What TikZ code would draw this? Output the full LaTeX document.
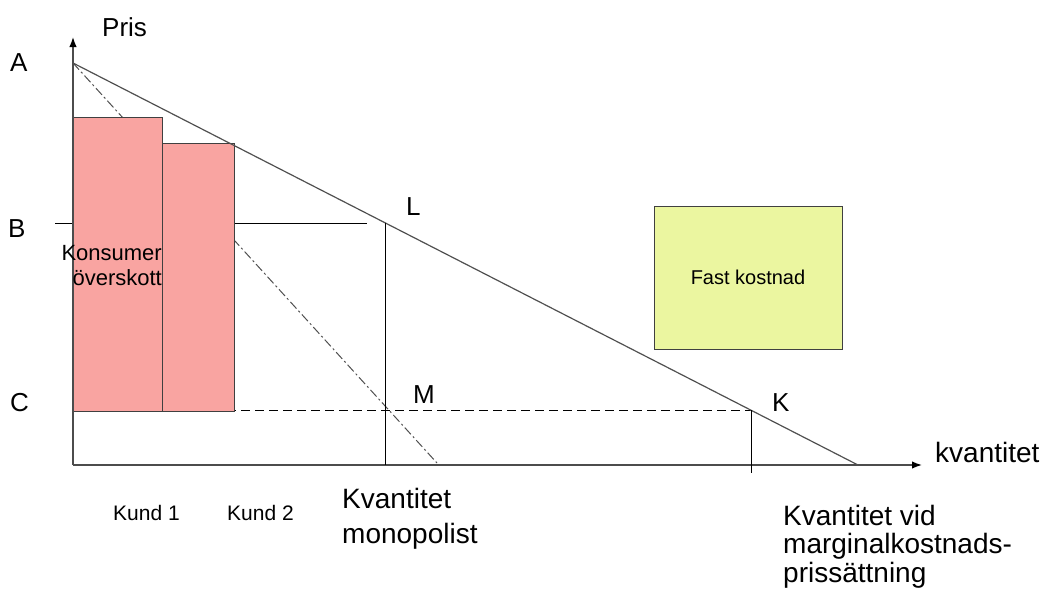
\documentclass[tikz,border=0pt]{standalone}
\usepackage{fontspec}
\setmainfont{Liberation Sans}
\usetikzlibrary{arrows.meta}
\definecolor{barfill}{HTML}{F9A4A1}
\definecolor{boxfill}{HTML}{EBF6A0}
\definecolor{linegray}{HTML}{505050}
\newcommand{\fs}[2]{\fontsize{#1}{#2}\selectfont}
\begin{document}
\begin{tikzpicture}[x=1pt,y=-1pt,
  axis/.style={draw=black!70,line width=1.5pt,-{Latex[length=10pt,width=7.5pt,black]}},
  demand/.style={draw=linegray,line width=1.2pt},
  mrline/.style={draw=linegray,line width=1pt,dash pattern=on 9pt off 3pt on 2pt off 3pt},
  guide/.style={draw=black,line width=1pt},
  dashguide/.style={draw=black,line width=1pt,dash pattern=on 9pt off 5pt},
  bar/.style={draw=black!75,line width=1pt,fill=barfill},
  letter/.style={inner sep=0pt,anchor=base west,font=\fs{26}{31}},
  qlabel/.style={inner sep=0pt,align=left,anchor=north west},
  kund/.style={inner sep=0pt,anchor=base west,font=\fs{21}{25}}]
  \useasboundingbox (0,0) rectangle (1042,595);

  % key points of the diagram
  \coordinate (O) at (73,465);
  \coordinate (A) at (73,63);
  \coordinate (E) at (858,465);
  \coordinate (L) at (385,223);
  \coordinate (K) at (751,410);
  \coordinate (M) at (388,410);
  \coordinate (MRend) at (437,463);
  \coordinate (Bstart) at (55,223);
  \coordinate (Bend) at (367,223);
  \coordinate (Cstart) at (73,410);
  \coordinate (Ktick) at (751,473);
  \coordinate (Ltick) at (385,465);
  \coordinate (Ytop) at (73,37);
  \coordinate (Xend) at (922,465);

  % marginal revenue (dash-dot) and price lines, behind the bars
  \draw[mrline] (A) -- (MRend);
  \draw[guide] (Bstart) -- (Bend);
  \draw[dashguide] (Cstart) -- (K);

  % consumer bars
  \draw[bar] (73,117) rectangle (162,411);
  \draw[bar] (162,143) rectangle (234,411);

  % axes
  \draw[axis] (O) -- (Ytop);
  \draw[axis] (O) -- (Xend);

  % demand line and verticals
  \draw[demand] (A) -- (E);
  \draw[guide] (L) -- (Ltick);
  \draw[guide] (K) -- (Ktick);

  % fixed cost box
  \node[draw=black!75,line width=1pt,fill=boxfill,minimum width=188pt,minimum height=143pt,
        font=\fs{20}{24}] (fast) at (748,277.5) {Fast kostnad};

  % labels
  \node[inner sep=0pt,anchor=base west,font=\fs{26}{31}] (pris) at (102,36) {Pris};
  \node[letter] (lA) at (10,71) {A};
  \node[letter] (lB) at (8,237) {B};
  \node[letter] (lC) at (10,411) {C};
  \node[letter] (lL) at (406,215) {L};
  \node[letter] (lM) at (413,403) {M};
  \node[letter] (lK) at (772,411) {K};
  \node[inner sep=0pt,anchor=base west,font=\fs{28}{33}] (kv) at (935,462) {kvantitet};

  \node[inner sep=0pt,align=right,anchor=north east,font=\fs{22}{25}] (ks) at (162,245)
    {Konsumer\\överskott};

  \node[kund] (k1) at (113,520) {Kund 1};
  \node[kund] (k2) at (227,520) {Kund 2};

  \node[qlabel,font=\fs{28}{35}] (qm) at (342,488) {Kvantitet\\monopolist};
  \node[qlabel,font=\fs{28}{28.5}] (qk) at (783,505)
    {Kvantitet vid\\marginalkostnads-\\prissättning};
\end{tikzpicture}
\end{document}
